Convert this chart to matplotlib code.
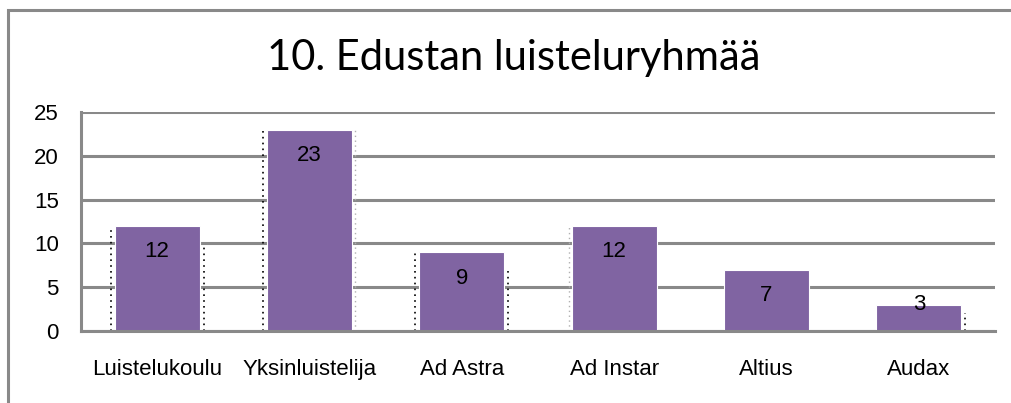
import matplotlib
matplotlib.use("Agg")
import matplotlib.pyplot as plt
from matplotlib.patches import Rectangle

categories = ["Luistelukoulu", "Yksinluistelija", "Ad Astra", "Ad Instar", "Altius", "Audax"]
values = [12, 23, 9, 12, 7, 3]
yticks = [0, 5, 10, 15, 20, 25]
title = "10. Edustan luisteluryhmää"

GRAY = "#898989"
PURPLE = "#8064A2"
W, H, DPI = 1011, 403, 100

plt.rcParams["font.family"] = ["Liberation Sans", "DejaVu Sans"]

fig = plt.figure(figsize=(W / DPI, H / DPI), dpi=DPI)
fig.patch.set_facecolor("white")

# outer chart frame (runs off right and bottom edges)
fig.patches.append(Rectangle((8 / W, -0.2), 1.2, 1.2 - 10 / H, transform=fig.transFigure,
                             fill=False, edgecolor=GRAY, linewidth=2.2, zorder=0))

ax = fig.add_axes([81 / W, 1 - 331 / H, (995 - 81) / W, (331 - 112) / H])
x = list(range(len(categories)))
ax.bar(x, values, width=0.56, color=PURPLE, edgecolor="white", linewidth=0.8, zorder=3)

ax.set_xlim(-0.5, len(categories) - 0.5)
ax.set_ylim(0, 25)
ax.set_yticks(yticks)
ax.set_xticks(x)
ax.set_xticklabels(categories, fontsize=16)
ax.tick_params(axis="y", labelsize=16, length=0, pad=16)
ax.tick_params(axis="x", length=0, pad=20)
ax.grid(axis="y", color=GRAY, linewidth=2.2, zorder=1)
for s in ["top", "right"]:
    ax.spines[s].set_visible(False)
for s in ["left", "bottom"]:
    ax.spines[s].set_color(GRAY)
    ax.spines[s].set_linewidth(2.2)
    ax.spines[s].set_zorder(4)

# dotted shadow artefacts along some bar edges
px_per_unit = (331 - 112) / 25
dx = 4 / ((995 - 81) / len(categories))
dots = (0, (1, 2.5))
for i, v in enumerate(values):
    if i in (0, 1, 2):
        ax.plot([i - 0.28 - dx] * 2, [0, v], linestyle=dots, color="black", lw=1.2, zorder=2)
    if i in (0, 2):
        ax.plot([i + 0.28 + dx] * 2, [0, v * 0.8], linestyle=dots, color="black", lw=1.2, zorder=2)
    if i == 1:
        ax.plot([i + 0.28 + dx * 0.6] * 2, [0, v], linestyle=dots, color="#b0b0b0", lw=1.0, zorder=2)
    if i == 3:
        ax.plot([i - 0.28 - dx * 0.6] * 2, [0, v], linestyle=dots, color="#b0b0b0", lw=1.0, zorder=2)
    if i == 5:
        ax.plot([i + 0.28 + dx] * 2, [0, v * 0.7], linestyle=dots, color="black", lw=1.2, zorder=2)

# data labels
for i, v in enumerate(values):
    h_px = v * px_per_unit
    off_px = max(0, min(26, h_px - 26))
    ax.annotate(str(v), (i, v), xytext=(0, -off_px * 72 / DPI), textcoords="offset points",
                ha="center", va="center", fontsize=16, color="black", zorder=5)

fig.text(514 / W, 1 - 70 / H, title, ha="center", va="baseline", fontsize=30,
         family=["Lato", "Liberation Sans"], color="black")

fig.savefig("out.png", dpi=DPI)
